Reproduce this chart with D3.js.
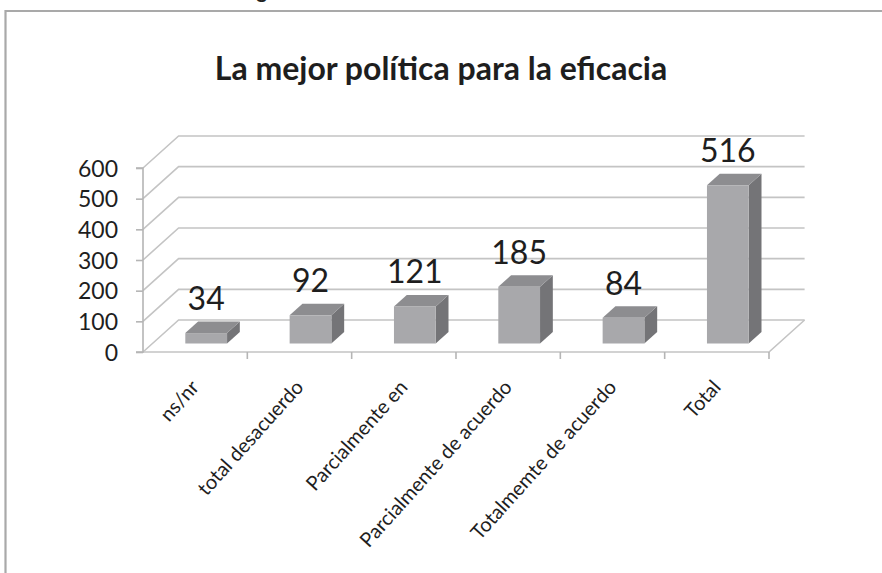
<!DOCTYPE html>
<html>
<head>
<meta charset="utf-8">
<script src="https://cdn.jsdelivr.net/npm/d3@7"></script>
<style>
  html, body { margin: 0; padding: 0; background: #fff; }
  svg { display: block; }
</style>
</head>
<body>
<svg id="chart" width="882" height="573"></svg>
<script>
// ---- data ----
const categories = ["ns/nr", "total desacuerdo", "Parcialmente en", "Parcialmente de acuerdo", "Totalmemte de acuerdo", "Total"];
const values = [34, 92, 121, 185, 84, 516];
const yTicks = [0, 100, 200, 300, 400, 500, 600];
const titleText = "La mejor política para la eficacia";

// ---- layout ----
const svg = d3.select("#chart");
const W = 882, H = 573;
const plotLeft = 143, plotRight = 769, floorY = 352, topY = 168;
const depth = { dx: 35.6, dy: -32 };        // wall depth
const barFront = { dx: 11, dy: -8.5 };      // bar front face offset into the floor
const barDepth = { dx: 12.8, dy: -11.5 };   // bar depth
const font = "Lato, 'Open Sans', sans-serif";

const x = d3.scaleBand().domain(categories).range([plotLeft, plotRight]).padding(0);
const y = d3.scaleLinear().domain([0, 600]).range([floorY, topY]);
const barW = x.bandwidth() * 0.4;

// outer frame
svg.append("path")
  .attr("d", `M5.5,${H} L5.5,11 L${W},11`)
  .attr("fill", "none").attr("stroke", "#a9a9a9").attr("stroke-width", 2.2);

// cut-off heading above frame
svg.append("text").attr("x", 240).attr("y", -2.5)
  .attr("font-family", font).attr("font-weight", "bold").attr("font-size", 20)
  .attr("fill", "#222").text("Figura");

// title
svg.append("text").attr("x", 441).attr("y", 80)
  .attr("text-anchor", "middle")
  .attr("font-family", font).attr("font-weight", "bold").attr("font-size", 32)
  .attr("fill", "#1e1e1e").text(titleText);

const gridColor = "#c4c4c4";
const grid = svg.append("g").attr("fill", "none").attr("stroke", gridColor).attr("stroke-width", 1.6);

// gridlines: left wall diagonal + back wall horizontal
yTicks.forEach(t => {
  const yy = y(t);
  grid.append("path")
    .attr("d", `M${plotLeft},${yy} L${plotLeft + depth.dx},${yy + depth.dy} L${plotRight + depth.dx},${yy + depth.dy}`);
});
// floor front edge and right edge
grid.append("path")
  .attr("d", `M${plotLeft},${floorY} L${plotRight},${floorY} L${plotRight + depth.dx},${floorY + depth.dy}`);

// y axis
const axisG = svg.append("g");
const yAxis = d3.axisLeft(y).tickValues(yTicks).tickSize(7).tickPadding(18);
axisG.attr("transform", `translate(${plotLeft},0)`).call(yAxis);
axisG.select(".domain").attr("stroke", "#b5b5b5").attr("stroke-width", 1.6)
  .attr("d", `M-7,${y(600)}H0V${y(0)}H-7`);
axisG.selectAll(".tick line").attr("stroke", "#b5b5b5").attr("stroke-width", 1.6);
axisG.selectAll(".tick text")
  .attr("font-family", font).attr("font-size", 23).attr("fill", "#1e1e1e")
  .attr("dy", "0.36em");

// x axis ticks at category boundaries
const xBounds = categories.map(c => x(c)).concat([plotRight]);
svg.append("g").selectAll("line").data(xBounds.slice(1)).join("line")
  .attr("x1", d => d).attr("x2", d => d)
  .attr("y1", floorY).attr("y2", floorY + 7)
  .attr("stroke", "#b5b5b5").attr("stroke-width", 1.6);

// bars
const barBase = floorY + barFront.dy;
const bars = svg.append("g");
categories.forEach((c, i) => {
  const v = values[i];
  const h = floorY - y(v);
  const x0 = x(c) + (x.bandwidth() - barW) / 2 + barFront.dx;
  const x1 = x0 + barW;
  const yt = barBase - h;
  const yb = barBase;
  bars.append("path")
    .attr("d", `M${x1},${yt} L${x1 + barDepth.dx},${yt + barDepth.dy} L${x1 + barDepth.dx},${yb + barDepth.dy} L${x1},${yb} Z`)
    .attr("fill", "#747477");
  bars.append("path")
    .attr("d", `M${x0},${yt} L${x0 + barDepth.dx},${yt + barDepth.dy} L${x1 + barDepth.dx},${yt + barDepth.dy} L${x1},${yt} Z`)
    .attr("fill", "#8d8d90");
  bars.append("rect")
    .attr("x", x0).attr("y", yt).attr("width", barW).attr("height", h)
    .attr("fill", "#a8a8ab");
  bars.append("text")
    .attr("x", x0 + barW / 2).attr("y", yt - 23)
    .attr("text-anchor", "middle")
    .attr("font-family", font).attr("font-size", 32).attr("fill", "#1e1e1e")
    .text(v);
});

// x labels rotated
svg.append("g").selectAll("text").data(categories).join("text")
  .attr("transform", d => `translate(${x(d) + x.bandwidth() / 2 + 5},388) rotate(-48)`)
  .attr("text-anchor", "end")
  .attr("font-family", font).attr("font-size", 20).attr("fill", "#1e1e1e")
  .text(d => d);
</script>
</body>
</html>
